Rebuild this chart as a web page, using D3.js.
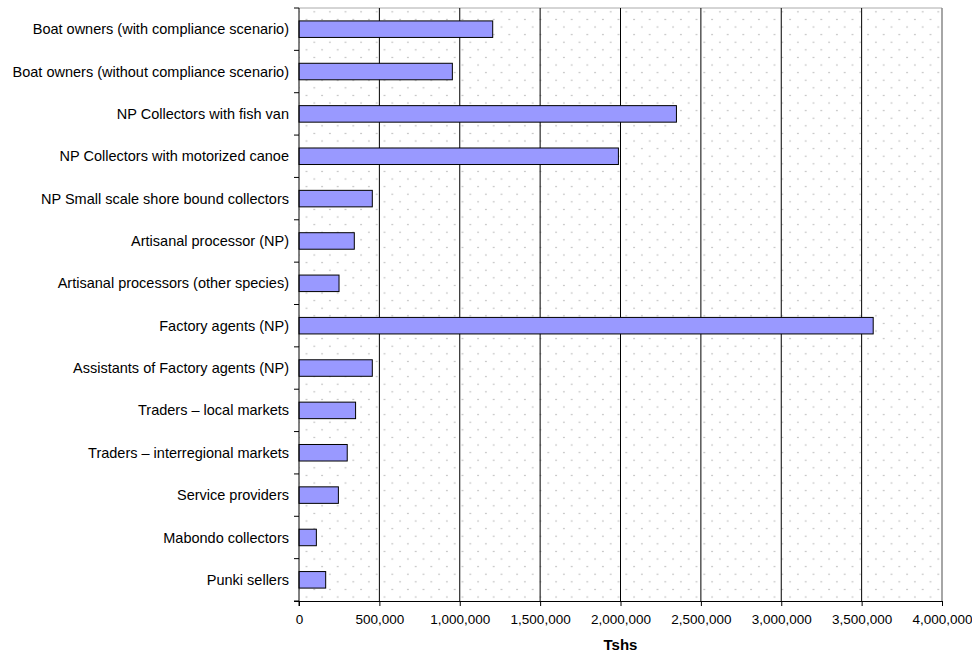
<!DOCTYPE html>
<html>
<head>
<meta charset="utf-8">
<script src="https://cdn.jsdelivr.net/npm/d3@7"></script>
<style>
  body { margin: 0; background: #fff; }
  text { font-family: "Liberation Sans", Arial, sans-serif; }
</style>
</head>
<body>
<div id="chart-area"></div>
<script>
// data
let categories = [
    "Boat owners (with compliance scenario)",
    "Boat owners (without compliance scenario)",
    "NP Collectors with fish van",
    "NP Collectors with motorized canoe",
    "NP Small scale shore bound collectors",
    "Artisanal processor (NP)",
    "Artisanal processors (other species)",
    "Factory agents (NP)",
    "Assistants of Factory agents (NP)",
    "Traders \u2013 local markets",
    "Traders \u2013 interregional markets",
    "Service providers",
    "Mabondo collectors",
    "Punki sellers"
];
let incomes = [1205000, 954000, 2348000, 1987000, 456000, 344000, 249000,
    3572000, 456000, 352000, 300000, 245000, 108000, 166000];
let xTicks = [0, 500000, 1000000, 1500000, 2000000, 2500000, 3000000, 3500000, 4000000];
let xTitle = "Tshs";

let margin = {top: 8, right: 30, bottom: 52, left: 299};
let width = 972 - margin.left - margin.right,
    height = 653 - margin.top - margin.bottom;

let svg = d3.select("#chart-area").append("svg")
    .attr("width", 972)
    .attr("height", 653);

// dotted background pattern
let pat = svg.append("defs").append("pattern")
    .attr("id", "dots")
    .attr("patternUnits", "userSpaceOnUse")
    .attr("x", margin.left + 1)
    .attr("y", margin.top + 2)
    .attr("width", 15.6)
    .attr("height", 15.2);
pat.append("rect").attr("width", 15.6).attr("height", 15.2).attr("fill", "#fff");
pat.append("circle").attr("cx", 3.9).attr("cy", 1.5).attr("r", 0.75).attr("fill", "#a8a8a8");
pat.append("circle").attr("cx", 11.7).attr("cy", 9.1).attr("r", 0.75).attr("fill", "#a8a8a8");

let g = svg.append("g")
    .attr("transform", "translate(" + margin.left + "," + margin.top + ")");

// Scales
let x = d3.scaleLinear()
    .domain([0, 4000000])
    .range([0, width]);

let y = d3.scaleBand()
    .domain(categories)
    .range([0, height])
    .paddingInner(0.61)
    .paddingOuter(0.305);

g.append("rect")
    .attr("width", width)
    .attr("height", height)
    .attr("fill", "url(#dots)");

// plot border (top and right in grey)
g.append("line")
    .attr("x1", 0).attr("x2", width)
    .attr("y1", 0).attr("y2", 0)
    .attr("stroke", "#aaa");
g.append("line")
    .attr("x1", width).attr("x2", width)
    .attr("y1", 0).attr("y2", height)
    .attr("stroke", "#888")
    .attr("stroke-width", 1.5);

// vertical gridlines
g.selectAll(".grid")
    .data(xTicks.slice(1, -1))
    .enter().append("line")
    .attr("class", "grid")
    .attr("x1", d => x(d)).attr("x2", d => x(d))
    .attr("y1", 0).attr("y2", height)
    .attr("stroke", "#000")
    .attr("stroke-width", 1);

// bars
g.selectAll(".bar")
    .data(incomes)
    .enter().append("rect")
    .attr("class", "bar")
    .attr("x", x(0))
    .attr("y", (d, i) => y(categories[i]))
    .attr("width", d => x(d) - x(0))
    .attr("height", y.bandwidth())
    .attr("fill", "#9999ff")
    .attr("stroke", "#000")
    .attr("stroke-width", 1);

// axes
let xAxis = d3.axisBottom(x)
    .tickValues(xTicks)
    .tickSize(5)
    .tickSizeOuter(0)
    .tickFormat(d3.format(","));

let xAxisGroup = g.append("g")
    .attr("class", "x-axis axis")
    .attr("transform", "translate(0," + height + ")")
    .call(xAxis);
xAxisGroup.select(".domain").attr("d", "M-5,0.5H" + width);
xAxisGroup.selectAll("text")
    .attr("y", 8)
    .attr("dy", "1.1em")
    .style("font-size", "13.5px")
    .attr("fill", "#000");

let yAxisGroup = g.append("g")
    .attr("class", "y-axis axis");
yAxisGroup.append("line")
    .attr("x1", 0).attr("x2", 0)
    .attr("y1", 0).attr("y2", height + 5)
    .attr("stroke", "#000");
let step = y.step();
let bounds = d3.range(categories.length + 1).map(i => i * step);
yAxisGroup.selectAll(".ytick")
    .data(bounds)
    .enter().append("line")
    .attr("class", "ytick")
    .attr("x1", -5).attr("x2", 0)
    .attr("y1", d => d).attr("y2", d => d)
    .attr("stroke", "#000");
yAxisGroup.selectAll(".ylabel")
    .data(categories)
    .enter().append("text")
    .attr("class", "ylabel")
    .attr("x", -10)
    .attr("y", d => y(d) + y.bandwidth() / 2)
    .attr("dy", "0.35em")
    .attr("text-anchor", "end")
    .style("font-size", "14.5px")
    .text(d => d);

g.append("text")
    .attr("x", width / 2)
    .attr("y", height + 49)
    .attr("text-anchor", "middle")
    .style("font-size", "15px")
    .style("font-weight", "bold")
    .text(xTitle);
</script>
</body>
</html>
